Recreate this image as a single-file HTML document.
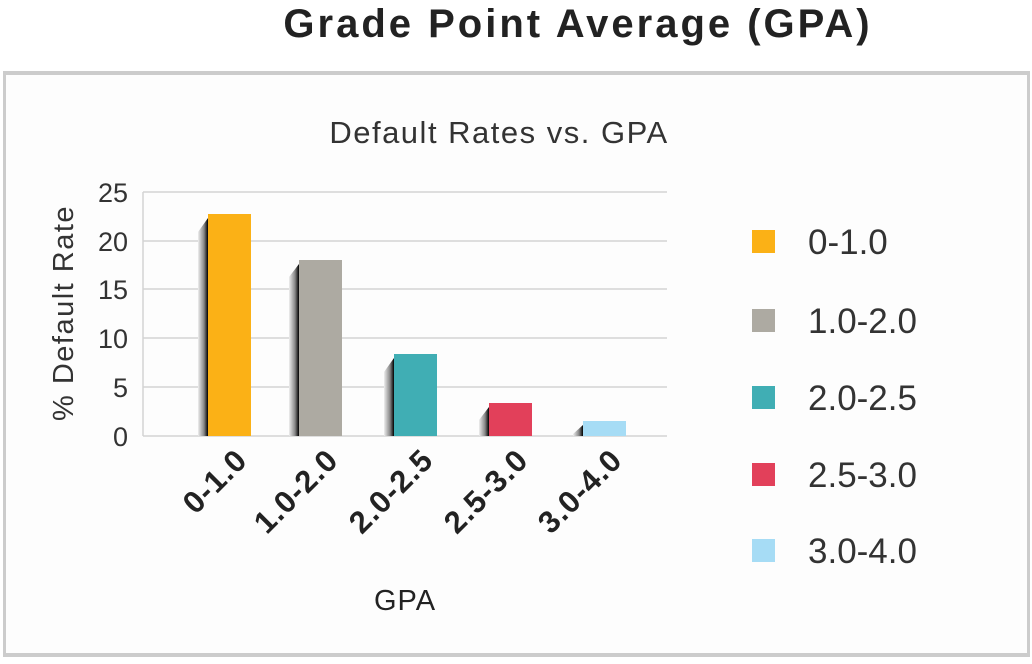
<!DOCTYPE html>
<html><head><style>
body{margin:0;width:1032px;height:659px;background:#fff;overflow:hidden;font-family:"Liberation Sans",sans-serif;}
</style></head><body>
<svg width="1032" height="659" xmlns="http://www.w3.org/2000/svg">
<defs>
<linearGradient id="sh" x1="0" x2="1" y1="0" y2="0">
<stop offset="0" stop-color="#eee"/><stop offset="0.6" stop-color="#888"/><stop offset="1" stop-color="#000"/>
</linearGradient>
</defs>
<text x="578" y="37" font-size="40" font-weight="bold" text-anchor="middle" fill="#222" letter-spacing="3">Grade Point Average (GPA)</text>
<rect x="3" y="71" width="1027" height="586" fill="#ccc"/>
<rect x="6" y="75" width="1021" height="578" fill="#fdfdfd"/>
<text x="499" y="143" font-size="31" text-anchor="middle" fill="#333" letter-spacing="1.5">Default Rates vs. GPA</text>
<g stroke="#d4d4d4" stroke-width="1.5">
<line x1="143" y1="192" x2="667" y2="192"/><line x1="143" y1="241" x2="667" y2="241"/>
<line x1="143" y1="289" x2="667" y2="289"/><line x1="143" y1="338" x2="667" y2="338"/>
<line x1="143" y1="387" x2="667" y2="387"/><line x1="143" y1="436" x2="667" y2="436"/>
<line x1="143" y1="192" x2="143" y2="436"/>
</g>
<g font-size="27" fill="#333" text-anchor="end">
<text x="128" y="202">25</text><text x="128" y="251">20</text><text x="128" y="299">15</text>
<text x="128" y="348">10</text><text x="128" y="397">5</text><text x="128" y="446">0</text>
</g>
<text transform="translate(73,313) rotate(-90)" font-size="29" fill="#333" text-anchor="middle" letter-spacing="1.5">% Default Rate</text>
<g>
<polygon points="198,232 208,218 208,436 198,436" fill="url(#sh)"/><rect x="208" y="214" width="43" height="222" fill="#fbb116"/>
<polygon points="289,277 299,264 299,436 289,436" fill="url(#sh)"/><rect x="299" y="260" width="43" height="176" fill="#adaaa2"/>
<polygon points="384,372 394,358 394,436 384,436" fill="url(#sh)"/><rect x="394" y="354" width="43" height="82" fill="#40aeb4"/>
<polygon points="479,420 489,407 489,436 479,436" fill="url(#sh)"/><rect x="489" y="403" width="43" height="33" fill="#e2405a"/>
<polygon points="573,434 583,425 583,436 573,436" fill="url(#sh)"/><rect x="583" y="421" width="43" height="15" fill="#a6dcf5"/>
</g>
<g font-size="31" fill="#222" font-weight="bold" text-anchor="end" letter-spacing="1">
<text transform="translate(249,462) rotate(-45)">0-1.0</text>
<text transform="translate(340,462) rotate(-45)">1.0-2.0</text>
<text transform="translate(435,462) rotate(-45)">2.0-2.5</text>
<text transform="translate(530,462) rotate(-45)">2.5-3.0</text>
<text transform="translate(624,462) rotate(-45)">3.0-4.0</text>
</g>
<text x="405" y="610" font-size="29" fill="#222" text-anchor="middle" letter-spacing="1">GPA</text>
<g font-size="35" fill="#333">
<rect x="752" y="230" width="23" height="23" fill="#fbb116"/><text x="808" y="254">0-1.0</text>
<rect x="752" y="309" width="23" height="23" fill="#adaaa2"/><text x="808" y="333">1.0-2.0</text>
<rect x="752" y="386" width="23" height="23" fill="#40aeb4"/><text x="808" y="410">2.0-2.5</text>
<rect x="752" y="463" width="23" height="23" fill="#e2405a"/><text x="808" y="487">2.5-3.0</text>
<rect x="752" y="539" width="23" height="23" fill="#a6dcf5"/><text x="808" y="563">3.0-4.0</text>
</g>
</svg>
</body></html>
